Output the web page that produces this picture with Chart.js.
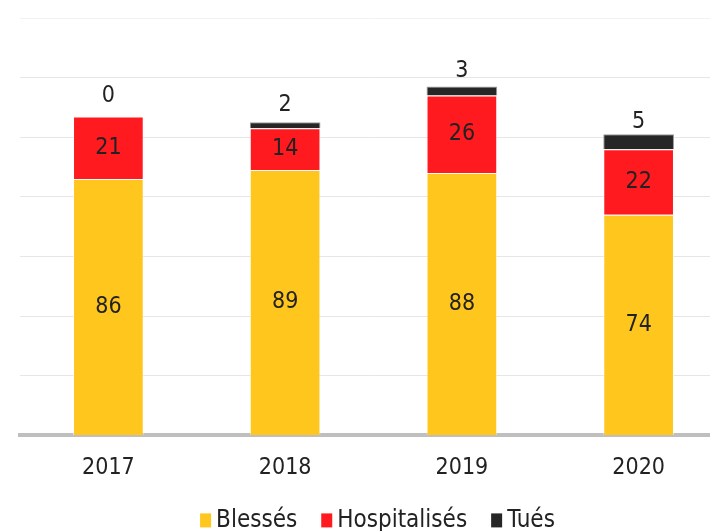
<!DOCTYPE html>
<html>
<head>
<meta charset="utf-8">
<script src="https://cdn.jsdelivr.net/npm/chart.js@4/dist/chart.umd.min.js"></script>
<style>
  html, body { margin: 0; padding: 0; background: #fff; overflow: hidden; }
  #wrap { width: 727px; height: 531px; }
</style>
</head>
<body>
<div id="wrap"><canvas id="chart"></canvas></div>
<script>
/* stacked bars: victims per year */

const YEARS = ['2017', '2018', '2019', '2020'];
const BLESSES = [86, 89, 88, 74];
const HOSPITALISES = [21, 14, 26, 22];
const TUES = [0, 2, 3, 5];

const FONT = '"Liberation Sans Narrow", "DejaVu Sans Condensed", Roboto, sans-serif';
const TEXT_COLOR = '#222';

// Writes the value of each segment: inside for the two big ones, above the bar for Tués
const valueLabels = {
  id: 'valueLabels',
  afterDatasetsDraw: (chart) => {
    const ctx = chart.ctx;
    ctx.save();
    ctx.font = `23px ${FONT}`;
    ctx.fillStyle = TEXT_COLOR;
    ctx.textAlign = 'center';
    ctx.textBaseline = 'middle';
    chart.data.datasets.forEach((ds, i) => {
      const meta = chart.getDatasetMeta(i);
      meta.data.forEach((bar, j) => {
        const mid = (bar.y + bar.base) / 2;
        const y = ds.label === 'Tués' ? mid - 20 : mid;
        ctx.fillText(String(ds.data[j]), bar.x, y);
      });
    });
    ctx.restore();
  }
};

// Legend under the axis labels: tight box/text spacing, wider gap between items
const bottomLegend = {
  id: 'bottomLegend',
  afterDraw: (chart) => {
    const ctx = chart.ctx;
    const area = chart.chartArea;
    const boxW = 11, boxH = 14, textGap = 5, itemGap = 24;
    ctx.save();
    ctx.font = `24px ${FONT}`;
    ctx.textBaseline = 'middle';
    const items = chart.data.datasets.map(ds => ({
      label: ds.label,
      color: ds.backgroundColor,
      width: boxW + textGap + ctx.measureText(ds.label).width
    }));
    const total = items.reduce((s, it) => s + it.width, 0) + itemGap * (items.length - 1);
    let x = (area.left + area.right) / 2 + 4 - total / 2;
    const y = area.bottom + 85;
    for (const it of items) {
      ctx.fillStyle = it.color;
      ctx.fillRect(x, y - boxH / 2, boxW, boxH);
      ctx.fillStyle = TEXT_COLOR;
      ctx.fillText(it.label, x + boxW + textGap, y);
      x += it.width + itemGap;
    }
    ctx.restore();
  }
};

new Chart(document.getElementById('chart'), {
  type: 'bar',
  data: {
    labels: YEARS,
    datasets: [
      { label: 'Blessés', data: BLESSES, backgroundColor: '#FFC61E', borderColor: 'rgba(255,255,255,0.5)', borderWidth: 1 },
      { label: 'Hospitalisés', data: HOSPITALISES, backgroundColor: '#FF1A1F', borderColor: 'rgba(255,255,255,0.5)', borderWidth: 1 },
      { label: 'Tués', data: TUES, backgroundColor: '#262626', borderColor: '#9a9a9a', borderWidth: 1 }
    ]
  },
  plugins: [valueLabels, bottomLegend],
  options: {
    responsive: true,
    maintainAspectRatio: false,
    animation: false,
    layout: { padding: { left: 20, top: 18, right: 0, bottom: 38 } },
    datasets: { bar: { barPercentage: 0.4, categoryPercentage: 1 } },
    plugins: {
      tooltip: { enabled: false },
      legend: { display: false } // drawn by bottomLegend
    },
    scales: {
      x: {
        stacked: true,
        grid: { display: false },
        border: { color: '#BFBFBF', width: 4 },
        ticks: { font: { family: FONT, size: 23 }, color: TEXT_COLOR, padding: 11 }
      },
      y: {
        stacked: true,
        min: 0,
        max: 140,
        ticks: { display: false, stepSize: 20 },
        border: { display: false },
        grid: {
          color: (c) => c.tick.value === 140 ? '#EEF3F8' : '#E6E6E6',
          lineWidth: 1,
          drawTicks: false
        }
      }
    }
  }
});
</script>
</body>
</html>
